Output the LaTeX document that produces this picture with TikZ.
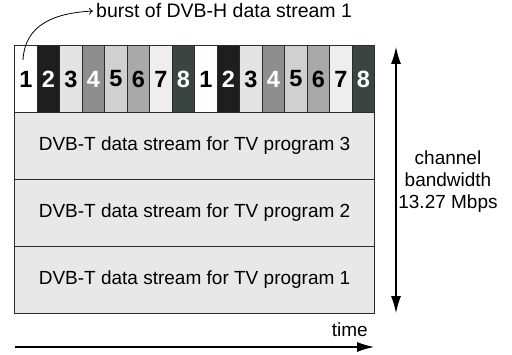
\documentclass[tikz,border=0pt]{standalone}
\usepackage{fontspec}
\setmainfont{Liberation Sans}
\usetikzlibrary{arrows.meta}
\definecolor{rowfill}{HTML}{E8E8E8}
\definecolor{edge}{HTML}{2A2A2A}
\definecolor{cA}{HTML}{FFFFFF}
\definecolor{cB}{HTML}{1E1E1E}
\definecolor{cC}{HTML}{E4E4E4}
\definecolor{cD}{HTML}{8E8E8E}
\definecolor{cE}{HTML}{D0D0D0}
\definecolor{cF}{HTML}{A9A9A9}
\definecolor{cG}{HTML}{EEEEEE}
\definecolor{cH}{HTML}{3A4542}
\begin{document}
\begin{tikzpicture}[x=1pt,y=1pt,
  slot/.style={draw=edge,line width=1.1pt,minimum width=22.5pt,minimum height=67pt,inner sep=0pt,anchor=south west,
    font=\fontsize{23.5}{23.5}\selectfont\bfseries},
  rowbox/.style={draw=edge,line width=1.1pt,fill=rowfill,minimum width=360pt,minimum height=67pt,inner sep=0pt,anchor=south west,
    font=\fontsize{19}{22}\selectfont},
  lbl/.style={font=\fontsize{19}{22}\selectfont,inner sep=0pt},
  bigarrow/.style={line width=1.1pt,-{Latex[length=17pt,width=10pt]}},
]
\useasboundingbox (0,0) rectangle (512,354);
% rows
\node[rowbox] (r1) at (14,40) {DVB-T data stream for TV program 1};
\node[rowbox] (r2) at (14,107) {DVB-T data stream for TV program 2};
\node[rowbox] (r3) at (14,174) {DVB-T data stream for TV program 3};
% slots
\foreach \i/\n/\c/\t in {0/1/cA/black,1/2/cB/white,2/3/cC/black,3/4/cD/white,4/5/cE/black,5/6/cF/black,6/7/cG/black,7/8/cH/white,
  8/1/cA/black,9/2/cB/white,10/3/cC/black,11/4/cD/white,12/5/cE/black,13/6/cF/black,14/7/cG/black,15/8/cH/white}{
  \node[slot,fill=\c,text=\t] (s\i) at (14+\i*22.5,241) {\n};
}
% burst label
\node[lbl,anchor=base west,font=\fontsize{19.5}{22}\selectfont] (burst) at (96,336) {burst of DVB-H data stream 1};
\coordinate (bstart) at (23,294);
\draw[line width=0.8pt,-{To[length=4pt,width=7pt]}] (bstart) .. controls (25,330) and (55,341) .. ([xshift=-3pt]burst.west);
% bandwidth arrow
\coordinate (vtop) at (396,307);
\coordinate (vbot) at (396,41);
\draw[line width=1.1pt,{Latex[length=17pt,width=10pt]}-{Latex[length=17pt,width=10pt]}] (vbot) -- (vtop);
\node[lbl,align=center] (bw) at (448,172) {channel\\bandwidth\\13.27 Mbps};
% time arrow
\coordinate (tstart) at (15,7);
\coordinate (tend) at (374,7);
\draw[bigarrow] (tstart) -- (tend);
\node[lbl,anchor=base east] (time) at (368,18) {time};
\end{tikzpicture}
\end{document}
